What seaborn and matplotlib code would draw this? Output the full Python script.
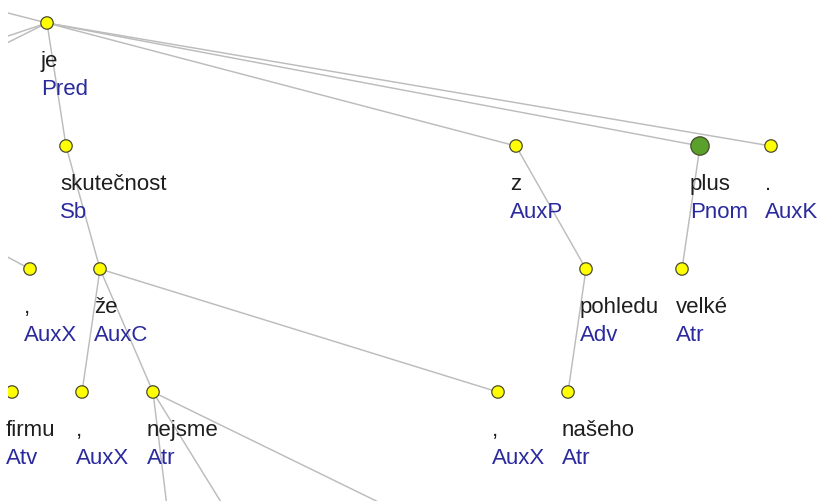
import seaborn as sns
import numpy as np
import matplotlib.pyplot as plt
import pandas as pd

# tree nodes: id, word, functor, column x, depth, parent id
# ids starting with "_" are nodes outside the visible window (only their edges show)
node_id = ["_root", "_l1", "_l2", "je", "skut", "z", "plus", "dot",
           "c1", "ze", "pohl", "velke", "firmu", "c2", "nejs", "c3", "nas",
           "_n1", "_n2", "_n3"]
words = ["", "", "", "je", "skutečnost", "z", "plus", ".",
         ",", "že", "pohledu", "velké", "firmu", ",", "nejsme", ",", "našeho",
         "", "", ""]
functors = ["", "", "", "Pred", "Sb", "AuxP", "Pnom", "AuxK",
            "AuxX", "AuxC", "Adv", "Atr", "Atv", "AuxX", "Atr", "AuxX", "Atr",
            "", "", ""]
col_x = [-433, -322, -200, 47, 66, 516, 700, 771,
         30, 100, 586, 682, 12, 82, 153, 498, 568,
         168, 229, 405]
depth = [-1, 1, 1, 0, 1, 1, 1, 1,
         2, 2, 2, 2, 3, 3, 3, 3, 3,
         4, 4, 4]
parent = [None, "je", "je", "_root", "je", "je", "je", "je",
          "_l2", "skut", "z", "plus", None, "ze", "ze", "ze", "pohl",
          "nejs", "nejs", "nejs"]
selected = "plus"

df = pd.DataFrame({"id": node_id, "word": words, "functor": functors,
                   "x": col_x, "depth": depth, "parent": parent})
# vertical layout: one level every 123 px
df["y"] = 24 + 123 * df["depth"]
df["kind"] = np.where(df["id"] == selected, "sel", "node")
pos = df.set_index("id")[["x", "y"]]

fig = plt.figure(figsize=(8.23, 5.02), dpi=100)
ax = fig.add_axes([8 / 823, 0, 815 / 823, 1])

# edges
for _, r in df.iterrows():
    if r["parent"] is None:
        continue
    p = pos.loc[r["parent"]]
    ax.plot([r["x"], p["x"]], [r["y"], p["y"]], color="#bcbcbc",
            linewidth=1.05, zorder=1, solid_capstyle="round")

vis = df[~df["id"].str.startswith("_")]
sns.scatterplot(data=vis, x="x", y="y", hue="kind", size="kind",
                palette={"node": "#ffff00", "sel": "#5aa12b"},
                sizes={"node": 80, "sel": 175},
                edgecolor="#4a4a30", linewidth=0.9, legend=False,
                ax=ax, zorder=3)

for _, r in vis.iterrows():
    off = 10 if r["kind"] == "sel" else 6
    ax.text(r["x"] - off, r["y"] + 43, r["word"], fontsize=16,
            family="Liberation Sans", color="#1e1e1e", va="baseline", ha="left")
    ax.text(r["x"] - off, r["y"] + 71, r["functor"], fontsize=16,
            family="Liberation Sans", color="#2a2a9e", va="baseline", ha="left")

ax.set_xlim(8, 823)
ax.set_ylim(502, 0)
ax.set_axis_off()
fig.savefig("out.png", dpi=100, facecolor="white")
